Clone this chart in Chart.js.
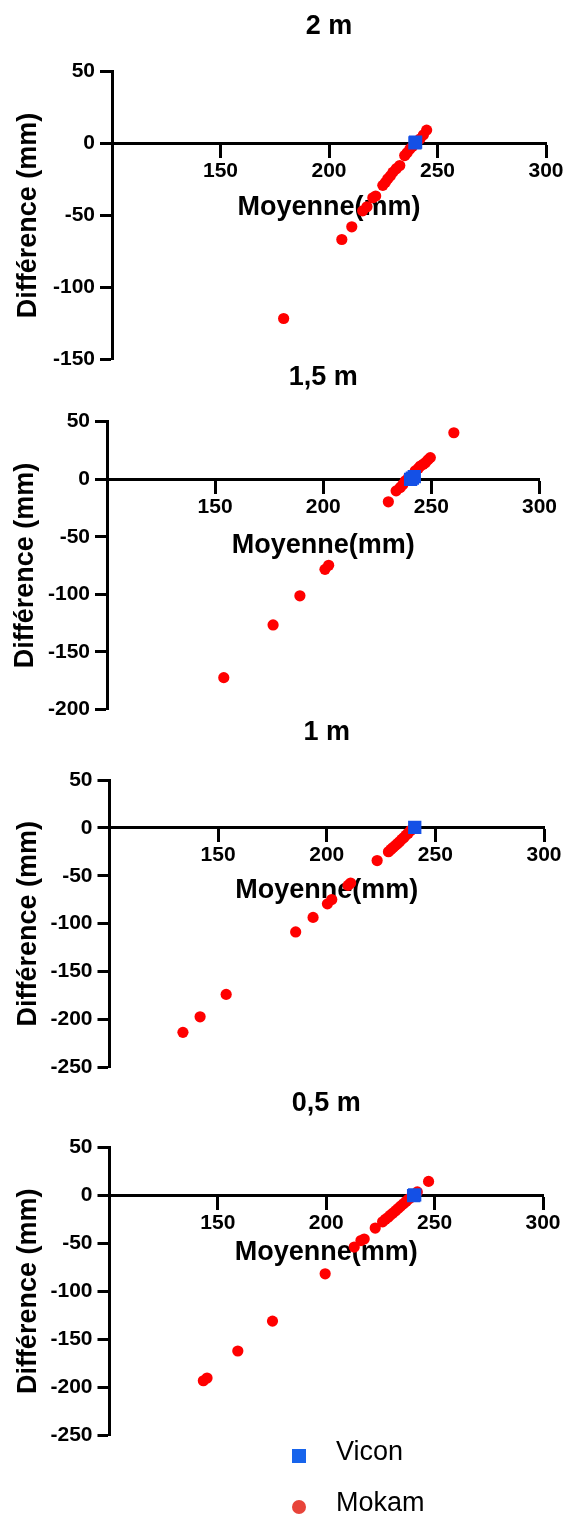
<!DOCTYPE html>
<html>
<head>
<meta charset="utf-8">
<script src="https://cdn.jsdelivr.net/npm/chart.js@4.4.1/dist/chart.umd.min.js"></script>
<style>
html, body { margin: 0; padding: 0; background: #fff; overflow: hidden; }
#page { position: relative; width: 566px; height: 1519px; }
#page canvas { position: absolute; left: 0; }
.legend-row { position: absolute; left: 0; width: 566px; height: 40px; line-height: 40px;
    font: 27px 'Liberation Sans', Arial, Helvetica, sans-serif; color: #000; }
.legend-row .mark { position: absolute; left: 292px; top: 13px; width: 14px; height: 14px; }
.legend-row .label { position: absolute; left: 336px; top: 0; }
</style>
</head>
<body>
<div id="page"></div>
<script>
var panelTitles = ['2 m', '1,5 m', '1 m', '0,5 m'];
var seriesNames = ['Vicon', 'Mokam'];
var xTickValues = [150, 200, 250, 300];
var yMinValues = [-150, -200, -250, -250];
var yMaxValue = 50;

var viconMean2m = [239.6, 239.9];
var viconDiff2m = [0.4, 0.9];
var mokamMean2m = [179.1, 205.9, 210.5, 215.5, 217.5, 220.2, 221.5, 224.8, 226, 227.1, 228.3, 229.5, 231, 232.6, 234.9, 236, 237.3, 238.5, 241.9, 243.5, 245];
var mokamDiff2m = [-121.6, -66.7, -57.9, -46.8, -44, -37.7, -36.5, -29.1, -27, -24.5, -22.5, -19.9, -17.5, -15.3, -8.4, -6.5, -3.8, -2, 3.1, 6, 9.3];

var viconMean15m = [240.4, 241.2, 242.1];
var viconDiff15m = [-0.2, 1, 2.2];
var mokamMean15m = [154, 176.8, 189.2, 200.8, 202.5, 230.1, 233.7, 235.6, 236.8, 237.9, 239.3, 242.5, 244, 244.9, 246.2, 247.2, 248.4, 249.5, 260.4];
var mokamDiff15m = [-172.4, -126.6, -101.3, -78.3, -74.8, -19.6, -10.1, -7.2, -4.5, -1.5, 1, 7.2, 9.5, 11.5, 13, 14.4, 16.8, 18.8, 40.4];

var viconMean1m = [240.5];
var viconDiff1m = [0.5];
var mokamMean1m = [133.8, 141.7, 153.7, 185.7, 193.7, 200.3, 202.3, 209.8, 211, 223.2, 228.4, 229.5, 230.5, 231.5, 232.5, 233.5, 234.5, 235.5, 236.5, 237.5, 238.7, 239.8];
var mokamDiff1m = [-213.4, -197.2, -173.8, -108.6, -93.4, -79.3, -74.8, -60, -57.6, -34.1, -24.9, -22.5, -20.5, -18.5, -16.5, -14.5, -12, -10, -7.5, -5.5, -2.5, -0.5];

var viconMean05m = [240.3, 240.8];
var viconDiff05m = [-0.3, 0.4];
var mokamMean05m = [143.3, 145, 159.2, 175.2, 199.5, 212.9, 216, 217.5, 222.6, 226, 227.3, 228.5, 229.6, 230.8, 232, 233.2, 234.4, 235.6, 236.8, 238, 239.2, 242, 247.2];
var mokamDiff05m = [-193.1, -190.3, -162.1, -131, -81.7, -53.9, -47.1, -45.5, -34.1, -27.6, -25, -23, -20.6, -18.4, -16, -13.6, -11.2, -8.8, -6.4, -4, -2, 3.5, 14.5];

var viconMeans = [viconMean2m, viconMean15m, viconMean1m, viconMean05m];
var viconDiffs = [viconDiff2m, viconDiff15m, viconDiff1m, viconDiff05m];
var mokamMeans = [mokamMean2m, mokamMean15m, mokamMean1m, mokamMean05m];
var mokamDiffs = [mokamDiff2m, mokamDiff15m, mokamDiff1m, mokamDiff05m];

// page geometry of each panel, in pixels
var frames = [
    { titleY: 26.3, plotTop: 71.5, plotBottom: 361, left: 112, right: 546, xTitleGap: 64, yTitleX: 28.9 },
    { titleY: 377.2, plotTop: 421.7, plotBottom: 711, left: 107, right: 539.5, xTitleGap: 66.5, yTitleX: 25.3 },
    { titleY: 732.5, plotTop: 780, plotBottom: 1069.3, left: 109.5, right: 544, xTitleGap: 63, yTitleX: 28.9 },
    { titleY: 1103.7, plotTop: 1147.3, plotBottom: 1436.7, left: 109.5, right: 543, xTitleGap: 57, yTitleX: 28.9 }
];

var FONT = "'Liberation Sans', Arial, Helvetica, sans-serif";
var TITLE_SIZE = 27, TITLE_LINE = TITLE_SIZE * 1.2;
var TICK_SIZE = 21;
var colors = { vicon: '#1450e6', mokam: '#ff0000' };
var legendColors = { vicon: '#1764ec', mokam: '#e8443a' };

var page = document.getElementById('page');

function toPoints(xs, ys) {
    return xs.map(function(x, k) { return { x: x, y: ys[k] }; });
}

function makePanel(i) {
    var f = frames[i];
    var canvasTop = Math.round(f.titleY - 20);
    var canvas = document.createElement('canvas');
    canvas.width = 566;
    canvas.height = Math.round(f.plotBottom) - canvasTop + 16;
    canvas.style.top = canvasTop + 'px';
    page.appendChild(canvas);

    var bold = function(size) { return { family: FONT, size: size, weight: 'bold', lineHeight: 1.2 }; };

    new Chart(canvas, {
        type: 'scatter',
        data: {
            datasets: [{
                label: seriesNames[0],
                data: toPoints(viconMeans[i], viconDiffs[i]),
                pointStyle: 'rect',
                pointRadius: 9.4,
                borderWidth: 0,
                backgroundColor: colors.vicon
            }, {
                label: seriesNames[1],
                data: toPoints(mokamMeans[i], mokamDiffs[i]),
                pointStyle: 'circle',
                pointRadius: 5.6,
                borderWidth: 0,
                backgroundColor: colors.mokam
            }]
        },
        options: {
            responsive: false,
            animation: false,
            devicePixelRatio: 1,
            events: [],
            layout: {
                padding: { left: 0, right: 566 - f.right, top: f.titleY - canvasTop - TITLE_LINE / 2, bottom: canvas.height - (f.plotBottom - canvasTop) }
            },
            plugins: {
                legend: { display: false },
                tooltip: { enabled: false },
                title: {
                    display: true,
                    text: panelTitles[i],
                    fullSize: false,
                    color: '#000',
                    font: bold(TITLE_SIZE),
                    padding: { top: 0, bottom: f.plotTop - f.titleY - TITLE_LINE / 2 }
                }
            },
            scales: {
                x: {
                    type: 'linear',
                    position: { y: 0 },
                    min: 100,
                    max: 300,
                    afterBuildTicks: function(s) { s.ticks = xTickValues.map(function(v) { return { value: v }; }); },
                    afterFit: function(s) { s.height = f.xTitleGap + TITLE_LINE / 2; },
                    grid: { drawOnChartArea: false, tickLength: 13, tickWidth: 3, tickColor: '#000' },
                    border: { color: '#000', width: 3 },
                    ticks: { color: '#000', font: bold(TICK_SIZE), padding: 2, maxRotation: 0, autoSkip: false },
                    title: { display: true, text: 'Moyenne(mm)', color: '#000', font: bold(TITLE_SIZE), padding: 0 }
                },
                y: {
                    type: 'linear',
                    min: yMinValues[i],
                    max: yMaxValue,
                    afterFit: function(s) { s.width = f.left; },
                    grid: { drawOnChartArea: false, tickLength: 12, tickWidth: 3, tickColor: '#000' },
                    border: { color: '#000', width: 3 },
                    ticks: { stepSize: 50, color: '#000', font: bold(TICK_SIZE), padding: 5 },
                    title: {
                        display: true,
                        text: 'Différence (mm)',
                        color: '#000',
                        font: bold(TITLE_SIZE),
                        padding: { top: f.yTitleX - TITLE_LINE / 2, bottom: 0 }
                    }
                }
            }
        }
    });
}

function makeLegend() {
    var rows = [
        { name: seriesNames[0], color: legendColors.vicon, round: false, y: 1456 },
        { name: seriesNames[1], color: legendColors.mokam, round: true, y: 1507 }
    ];
    rows.forEach(function(r) {
        var row = document.createElement('div');
        row.className = 'legend-row';
        row.style.top = (r.y - 20) + 'px';
        var mark = document.createElement('span');
        mark.className = 'mark';
        mark.style.background = r.color;
        if (r.round) mark.style.borderRadius = '50%';
        var label = document.createElement('span');
        label.className = 'label';
        label.textContent = r.name;
        row.appendChild(mark);
        row.appendChild(label);
        page.appendChild(row);
    });
}

for (var i = 0; i < frames.length; i++) makePanel(i);
makeLegend();
</script>
</body>
</html>
